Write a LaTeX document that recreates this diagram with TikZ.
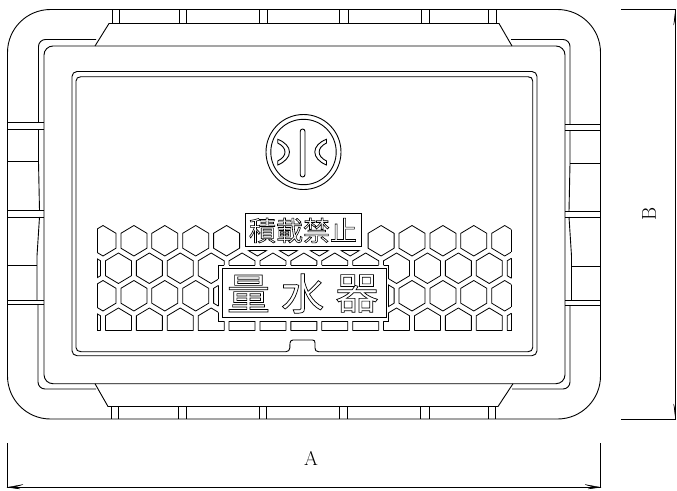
\documentclass[tikz,border=0pt]{standalone}
\usepackage{fontspec}
\setmainfont{Latin Modern Roman}
\newfontfamily\cjkfont{Noto Sans CJK JP}
\newcommand{\strokedtext}[2]{\special{pdf:code #1 w 1 Tr}#2\special{pdf:code 0 Tr}}
\newcommand{\hexgrid}{
  \foreach \top/\off/\last in {225.5/103/13, 253/87.55/14, 280.5/103/13, 308/87.55/14}{
    \foreach \k in {0,...,\last}{
      ({\off+30.9*\k-13},{\top+7.8}) -- ({\off+30.9*\k},\top) -- ({\off+30.9*\k+13},{\top+7.8})
      -- ({\off+30.9*\k+13},{\top+22.7}) -- ({\off+30.9*\k},{\top+30.5}) -- ({\off+30.9*\k-13},{\top+22.7}) -- cycle
    }
  }
}
\newcommand{\hexwindow}{(97,220) -- (241,220) -- (241,250.7) -- (366,250.7) -- (366,220) -- (511,220) -- (511,330.7) -- (97,330.7) -- cycle}
\newcommand{\hexhole}{(218,265) rectangle (388,321)}
\tikzset{
  ln/.style={draw=black,line width=0.9pt,line join=miter},
  thinln/.style={draw=black,line width=0.8pt},
  tip/.style={draw=black,line width=0.3pt,fill=black},
  labelbox/.style={draw=black,line width=0.9pt,fill=white,inner sep=0pt,anchor=north west},
  dimtext/.style={font=\fontsize{20}{20}\selectfont,inner sep=0pt},
  bigchar/.style={font=\cjkfont\fontsize{43}{43}\selectfont,inner sep=0pt},
  smalltext/.style={font=\cjkfont\fontsize{27}{27}\selectfont,inner sep=0pt}
}
\begin{document}
\begin{tikzpicture}[x=1pt,y=-1pt]
\useasboundingbox (0,0) rectangle (677,490);
% hexagon pattern
\draw[thinln] \hexgrid;
\fill[white,even odd rule] (60,215) rectangle (550,346) \hexwindow \hexhole;
\begin{scope}
  \clip \hexgrid;
  \draw[thinln] \hexwindow;
  \draw[thinln] \hexhole;
\end{scope}
% outer body
\draw[ln,rounded corners=43pt] (7.5,9.5) rectangle (600.5,419);
% layer 3 and inner frames
\draw[ln,rounded corners=9pt] (44,46) rectangle (565,383.7);
\draw[ln,rounded corners=5pt] (72,71.5) rectangle (537,355.7);
\draw[ln] (81,76.7) -- (528,76.7) .. controls (531,76.7) and (532.7,78.4) .. (532.7,81) -- (532.7,347.5)
  .. controls (532.7,350) and (531,351.7) .. (528,351.7) -- (318.5,351.7)
  .. controls (316,351.7) and (315,350) .. (315,348) -- (315,343)
  .. controls (315,341) and (314.5,340) .. (312.5,340) -- (293,340)
  .. controls (291,340) and (290.5,341) .. (290,343) -- (289.8,348)
  .. controls (289.5,350) and (288.5,351.7) .. (286,351.7) -- (81,351.7)
  .. controls (78,351.7) and (76,350) .. (76,347.5) -- (76,81)
  .. controls (76,78.4) and (78,76.7) .. (81,76.7) -- cycle;
% trapezoid lugs
\draw[ln] (95,46) -- (109,23.5) -- (499,23.5) -- (512,46);
\draw[ln] (95,383.7) -- (108,406.5) -- (498,406.5) -- (513,383.7);
% layer 2 left
\draw[ln,rounded corners=7pt] (96,39.5) -- (38.5,39.5) -- (38.5,122.7);
\draw[ln] (38.5,129) -- (38.5,161.7) -- (39.5,210.7);
\draw[ln] (39.5,217) -- (37,256) -- (37,300);
\draw[ln,rounded corners=7pt] (38,304.5) -- (38,389) -- (96,389);
% layer 2 right
\draw[ln,rounded corners=7pt] (511,39.5) -- (570,39.5) -- (570,124);
\draw[ln] (570,130.7) -- (570,163.3) -- (569,211);
\draw[ln] (569,217) -- (571.5,256) -- (571.5,300);
\draw[ln,rounded corners=7pt] (570,305) -- (570,389) -- (512,389);
% side ribs
\foreach \ya in {122.7,129,210.7,217,300,304.3}{\draw[ln] (7.5,\ya) -- (44,\ya);}
\draw[ln] (7.5,161.7) -- (38.5,161.7);
\draw[ln] (7.5,265.7) -- (37,265.7);
\foreach \ya in {124,130.7,211,217,300,305}{\draw[ln] (565,\ya) -- (600.5,\ya);}
\draw[ln] (570,163.3) -- (600.5,163.3);
\draw[ln] (571.5,266) -- (600.5,266);
% top and bottom ribs
\foreach \xa in {112.7,119.3,179.3,186.7,259.3,267.3,339.3,348.3,421.7,429.3,488.7,496}{\draw[ln] (\xa,9.5) -- (\xa,23.5);}
\foreach \xa in {111,118.3,178,186,259.3,266.7,339.3,347.7,420.7,429.3,488.7,495.3}{\draw[ln] (\xa,406.5) -- (\xa,419);}
% water mark
\draw[ln] (303.5,152) circle (37.5);
\draw[ln] (303.5,152) circle (32.7);
\draw[ln,rounded corners=2.4pt] (300.2,129) rectangle (305,177);
\draw[ln] (277.7,139.3) .. controls (285,142) and (289.5,147) .. (289.5,152) .. controls (289.5,157) and (285,162) .. (277.7,165)
  -- (277.7,161) .. controls (282.5,158.5) and (285,155.5) .. (285,152) .. controls (285,148.5) and (282.5,145.5) .. (277.7,143) -- cycle;
\draw[ln] (326.5,139.3) .. controls (319,142) and (314.8,147) .. (314.8,152) .. controls (314.8,157) and (319,162) .. (326.5,165)
  -- (326.5,161) .. controls (321.5,158.5) and (319.2,155.5) .. (319.2,152) .. controls (319.2,148.5) and (321.5,145.5) .. (326.5,143) -- cycle;
% label boxes
\node[labelbox,minimum width=115.4pt,minimum height=33.6pt] (topbox) at (245.3,212.7) {};
\node[labelbox,minimum width=163.4pt,minimum height=49pt] (mainbox) at (222.3,268.3) {};
\node[smalltext] (kinshi) at (303,230.5) {\strokedtext{0.6}{積載禁止}};
\node[bigchar] (ryo) at (248.5,293.5) {\strokedtext{0.7}{量}};
\node[bigchar] (mizu) at (302.7,293.5) {\strokedtext{0.7}{水}};
\node[bigchar] (ki) at (357,293.5) {\strokedtext{0.7}{器}};
% dimensions
\coordinate (al) at (7.5,443); \coordinate (alb) at (7.5,488);
\coordinate (ar) at (600.5,443); \coordinate (arb) at (600.5,488);
\coordinate (at) at (7.5,487.3); \coordinate (ae) at (600.5,487.3);
\draw[ln] (al) -- (alb);
\draw[ln] (ar) -- (arb);
\draw[ln] (at) -- (ae);
\draw[tip] (at) -- (23,484.5) -- (14,487.3) -- (20,489) -- cycle;
\draw[tip] (ae) -- (585,484.5) -- (594,487.3) -- (588,489) -- cycle;
\coordinate (bt) at (621,9.5); \coordinate (bte) at (675.5,9.5);
\coordinate (bb) at (621,419); \coordinate (bbe) at (675.5,419);
\draw[ln] (bt) -- (bte) -- (bbe) -- (bb);
\draw[tip] (bte) -- (673.7,25) -- (675.5,16) -- cycle;
\draw[tip] (bbe) -- (673.7,404) -- (675.5,412) -- cycle;
\node[dimtext] (labA) at (311,458) {A};
\node[dimtext,rotate=90] (labB) at (649,214) {B};
\end{tikzpicture}
\end{document}
